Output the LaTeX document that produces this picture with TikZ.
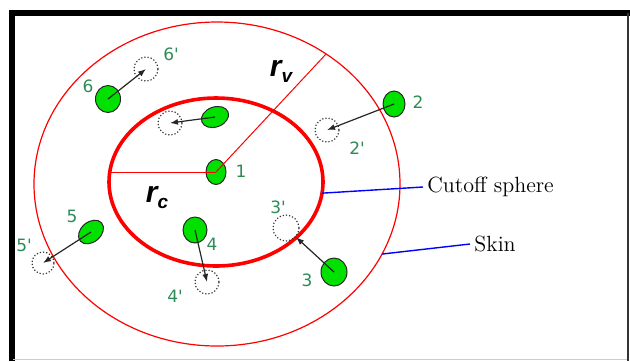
\documentclass[tikz,border=0pt]{standalone}
\usepackage{fontspec}
\usepackage{tikz}
\usetikzlibrary{arrows.meta,shapes.geometric}
\newfontfamily\numfont{DejaVu Sans}
\newfontfamily\rfont{Liberation Sans}
\definecolor{numgreen}{RGB}{46,139,87}
\definecolor{atomgreen}{RGB}{0,225,0}
\definecolor{linkblue}{RGB}{0,0,255}

\begin{document}
\begin{tikzpicture}[
    x=0.5pt, y=-0.5pt,
    sphere/.style={
        draw=red,
        ellipse,
        inner sep=0pt,
        outer sep=0pt
    },
    atom/.style={
        draw=black!85,
        fill=atomgreen,
        ellipse,
        line width=0.5pt,
        inner sep=0pt,
        minimum width=12pt,
        minimum height=13pt
    },
    ghost/.style={
        draw=black!80,
        circle,
        densely dotted,
        line width=0.6pt,
        inner sep=0pt,
        minimum size=12pt
    },
    num/.style={text=numgreen, font=\numfont\fontsize{8.5}{10}\selectfont, inner sep=0pt},
    note/.style={font=\fontsize{11}{13}\selectfont, inner sep=0pt, anchor=west},
    radius/.style={red, line width=0.5pt},
    pointer/.style={linkblue, line width=0.7pt},
    move/.style={-{Latex[length=4pt,width=3pt]}, black!85, line width=0.6pt}
]
\useasboundingbox (0,0) rectangle (630,361);

% frame
\draw[line width=3pt] (11.5,361) -- (11.5,13) -- (630,13);
\draw[line width=1pt, black!80] (627.5,13) -- (627.5,361);
\draw[line width=0.5pt, gray!40] (13,359.5) -- (627,359.5);

% skin and cutoff sphere
\node[sphere, line width=0.6pt, minimum width=183pt, minimum height=162pt] (skin) at (217,184) {};
\node[sphere, line width=1.8pt, minimum width=107pt, minimum height=84pt] (cutoff) at (216,182) {};

% particles and their old positions
\node[ghost] (g2) at (327,130) {};
\node[ghost, minimum size=13pt] (g3) at (286,228) {};
\node[ghost] (g4) at (207,282) {};
\node[ghost, minimum size=11pt] (g5) at (43,263) {};
\node[ghost] (g6) at (146,69) {};
\node[ghost] (g7) at (170,123) {};

\node[atom, minimum width=10pt, minimum height=12.5pt] (p1) at (216,172) {};
\node[atom, minimum width=11pt, minimum height=13pt] (p2) at (394,104) {};
\node[atom, minimum width=13pt, minimum height=14pt] (p3) at (334,272) {};
\node[atom, minimum width=12pt, minimum height=13pt] (p4) at (195,230) {};
\node[atom, minimum width=14pt, minimum height=10pt, rotate=40] (p5) at (91,232) {};
\node[atom, minimum width=12.5pt, minimum height=13.5pt] (p6) at (108,99) {};
\node[atom, minimum width=14pt, minimum height=10pt, rotate=20] (p7) at (215,117) {};

% radii
\draw[radius] (p1.center) -- (p1.center -| cutoff.west);
\draw[radius] (p1.center) -- (skin.50);
\node[font=\rfont\bfseries\itshape\fontsize{15}{15}\selectfont, inner sep=0pt] (rv) at (281,71)
    {r\raisebox{-3pt}{\fontsize{9.5}{10}\selectfont v}};
\node[font=\rfont\bfseries\itshape\fontsize{15}{15}\selectfont, inner sep=0pt] (rc) at (157,198)
    {r\raisebox{-3pt}{\fontsize{9.5}{10}\selectfont c}};

% moves
\draw[move] (p2.center) -- (g2.center);
\draw[move] (p3.center) -- (g3);
\draw[move] (p4.center) -- (g4.center);
\draw[move] (p5.center) -- (g5.center);
\draw[move] (p6.center) -- (g6.center);
\draw[move] (p7.center) -- (g7.center);

% numbers
\node[num] (n1) at (241,171) {1};
\node[num] (n2) at (418,102) {2};
\node[num] (n2b) at (357,148) {2'};
\node[num] (n3) at (307,280) {3};
\node[num] (n3b) at (278,207) {3'};
\node[num] (n4) at (212,244) {4};
\node[num] (n4b) at (175,296) {4'};
\node[num] (n5) at (72,216) {5};
\node[num] (n5b) at (24,245) {5'};
\node[num] (n6) at (88,86) {6};
\node[num] (n6b) at (171,54) {6'};

% legend
\node[note] (cuttxt) at (427,187) {Cutoff sphere};
\node[note] (skintxt) at (474,244) {Skin};
\draw[pointer] (cutoff.-6) -- ([xshift=-2pt]cuttxt.west);
\draw[pointer] (skin.-23) -- ([xshift=-2pt]skintxt.west);

\end{tikzpicture}
\end{document}
